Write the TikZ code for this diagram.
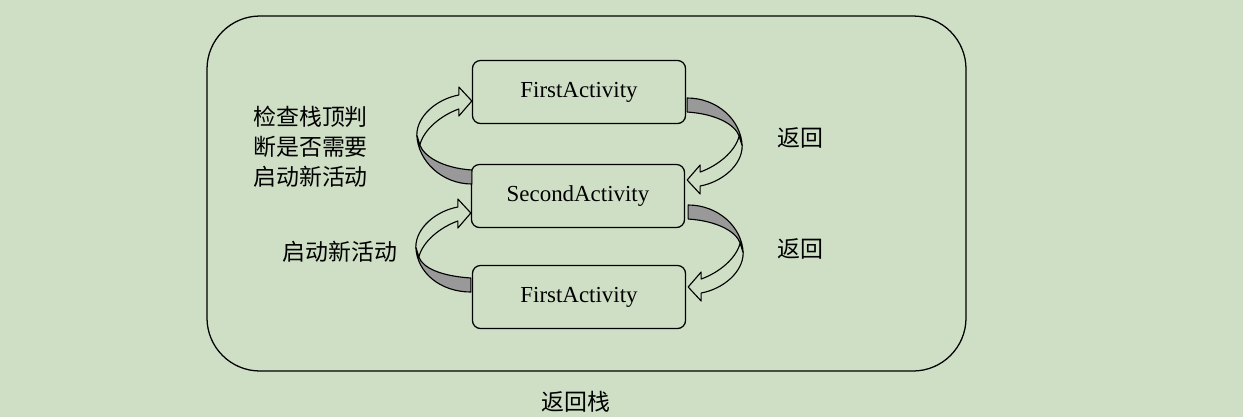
\documentclass[tikz,border=0pt]{standalone}
\usepackage{fontspec}
\setmainfont{Liberation Serif}
\newfontfamily\cjk{Noto Sans CJK SC}
\definecolor{bgc}{HTML}{CFDFC5}
\tikzset{
  act/.style={draw, rounded corners=0.2cm, minimum width=5.325cm, minimum height=1.575cm, line width=0.9pt},
  lbl/.style={font=\fontsize{16.3}{21.3}\selectfont\cjk, inner sep=0pt},
  ribbon back/.style={draw, fill=black!40, line width=0.8pt},
  ribbon front/.style={draw, fill=bgc, line width=0.8pt},
  pics/ribbon/.style={code={
    \path[ribbon back] (-55,34) .. controls (-54,60) and (-30,#1+7) .. (0,#1+7) -- (0,#1-7)
      .. controls (-30,#1-9) and (-48,55) .. (-52,44) -- cycle;
    \path[ribbon front] (0,0) -- (-13,15) -- (-13,8) .. controls (-30,14) and (-48,28) .. (-52,44)
      -- (-55,34) .. controls (-55,15) and (-35,-2) .. (-13,-6) -- (-13,-14) -- cycle;
  }}
}
\begin{document}
\begin{tikzpicture}[x=0.025cm, y=-0.025cm, font=\fontsize{16.3}{21.3}\selectfont, line join=round, line cap=round]
  \fill[bgc] (0,0) rectangle (1243,417);
  \useasboundingbox (0,0) rectangle (1243,417);
  \draw[line width=0.9pt, rounded corners=1.325cm] (207,16) rectangle (966,371);
  \path
  (579,92) node[act] (first) {FirstActivity}
  (578,196) node[act] (second) {SecondActivity}
  (579,297) node[act] (third) {FirstActivity}
  (253,147) node[lbl, anchor=west, align=left] (check) {检查栈顶判\\断是否需要\\启动新活动}
  (340,252) node[lbl] (start) {启动新活动}
  (800,138) node[lbl] (backa) {返回}
  (800,249) node[lbl] (backb) {返回}
  (576,402) node[lbl] (stack) {返回栈};
  \pic at ([yshift=-0.225cm]first.west) {ribbon=76};
  \pic at ([yshift=-0.425cm]second.west) {ribbon=72};
  \pic[rotate=180] at ([xshift=0.05cm, yshift=0.4cm]second.east) {ribbon=75};
  \pic[rotate=180] at ([xshift=0.05cm, yshift=0.25cm]third.east) {ribbon=75};
\end{tikzpicture}
\end{document}
